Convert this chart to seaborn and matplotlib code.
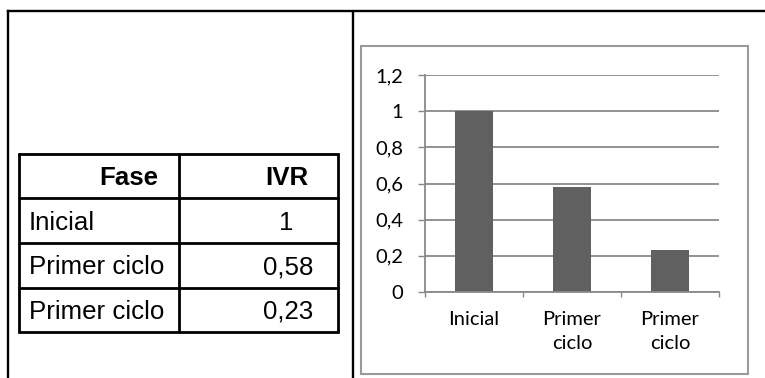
import matplotlib
matplotlib.use("Agg")
import matplotlib.pyplot as plt
import seaborn as sns
import pandas as pd
from matplotlib.patches import Rectangle

# Data
fases = ["Inicial", "Primer ciclo", "Primer ciclo"]
ivr_values = [1.0, 0.58, 0.23]
ivr_labels = ["1", "0,58", "0,23"]
table_header = ["Fase", "IVR"]
bar_labels = ["Inicial", "Primer\nciclo", "Primer\nciclo"]
y_ticks = [0, 0.2, 0.4, 0.6, 0.8, 1.0, 1.2]
y_tick_labels = ["0", "0,2", "0,4", "0,6", "0,8", "1", "1,2"]

W, H = 765, 378
sns.set_theme(style="white")
plt.rcParams["font.family"] = ["Liberation Sans", "DejaVu Sans"]

fig = plt.figure(figsize=(W / 100, H / 100), dpi=100)
fig.patch.set_facecolor("white")

# Pixel-space overlay for the page layout and the table
ov = fig.add_axes([0, 0, 1, 1], zorder=0)
ov.set_xlim(0, W)
ov.set_ylim(H, 0)
ov.axis("off")

black_lw = 1.7
# outer frame (bottom runs off the page)
ov.plot([8.3, 8.3], [10.5, H + 5], color="black", lw=black_lw, solid_capstyle="projecting")
ov.plot([8.3, W + 5], [10.5, 10.5], color="black", lw=black_lw, solid_capstyle="projecting")
ov.plot([352.8, 352.8], [10.5, H + 5], color="black", lw=black_lw)

# table grid
tl, tr, tt, tb = 19, 338.3, 154.4, 331.7
col_x = 179
row_y = [197.5, 242.8, 288]
tlw = 2.0
ov.plot([tl, tr, tr, tl, tl], [tt, tt, tb, tb, tt], color="black", lw=tlw,
        solid_joinstyle="miter")
ov.plot([col_x, col_x], [tt, tb], color="black", lw=tlw)
for y in row_y:
    ov.plot([tl, tr], [y, y], color="black", lw=tlw)

fs_table = 18.6
ov.text(158, 185, table_header[0], ha="right", va="baseline", fontsize=fs_table,
        fontweight="bold", color="black")
ov.text(308, 185, table_header[1], ha="right", va="baseline", fontsize=fs_table,
        fontweight="bold", color="black")
baselines = [230, 274.5, 319]
value_right = [293, 313, 313]
for name, lab, yb, xr in zip(fases, ivr_labels, baselines, value_right):
    ov.text(29, yb, name, ha="left", va="baseline", fontsize=fs_table, color="black")
    ov.text(xr, yb, lab, ha="right", va="baseline", fontsize=fs_table, color="black")

# chart frame
ov.add_patch(Rectangle((360.8, 45.8), 748.5 - 360.8, 373.8 - 45.8, fill=False,
                       edgecolor="#9a9a9a", lw=1.5))

# Bar chart
left, right, top, bottom = 425, 719, 75, 292
ax = fig.add_axes([left / W, 1 - bottom / H, (right - left) / W, (bottom - top) / H],
                  zorder=2)
ax.patch.set_alpha(0)
df = pd.DataFrame({"pos": [0, 1, 2], "ivr": ivr_values})
sns.barplot(data=df, x="pos", y="ivr", ax=ax, color="#606060", saturation=1,
            width=0.39, edgecolor="none", linewidth=0)

grey = "#898989"
tick_fs = 14.5
ax.set_xlim(-0.5, 2.5)
ax.set_ylim(0, 1.2)
ax.set_yticks(y_ticks)
ax.set_yticklabels(y_tick_labels, fontfamily=["Lato", "DejaVu Sans"], fontsize=tick_fs,
                   color="black")
ax.set_xticks([0, 1, 2])
ax.set_xticklabels(bar_labels, fontfamily=["Lato", "DejaVu Sans"], fontsize=tick_fs,
                   color="black", linespacing=1.45)
ax.set_xticks([-0.5, 0.5, 1.5, 2.5], minor=True)
ax.set_xlabel("")
ax.set_ylabel("")

ax.yaxis.grid(True, color=grey, lw=1.3)
ax.xaxis.grid(False)
ax.set_axisbelow(True)
for s in ["top", "right"]:
    ax.spines[s].set_visible(False)
for s in ["left", "bottom"]:
    ax.spines[s].set_color(grey)
    ax.spines[s].set_linewidth(1.3)

ax.tick_params(axis="y", which="major", left=True, length=5, width=1.0, color=grey,
               pad=10.5, direction="out")
ax.tick_params(axis="x", which="major", bottom=False, length=0, pad=14.0)
ax.tick_params(axis="x", which="minor", bottom=True, length=3.6, width=1.0,
               color=grey, direction="out")

fig.savefig("out.png", dpi=100, facecolor="white")
